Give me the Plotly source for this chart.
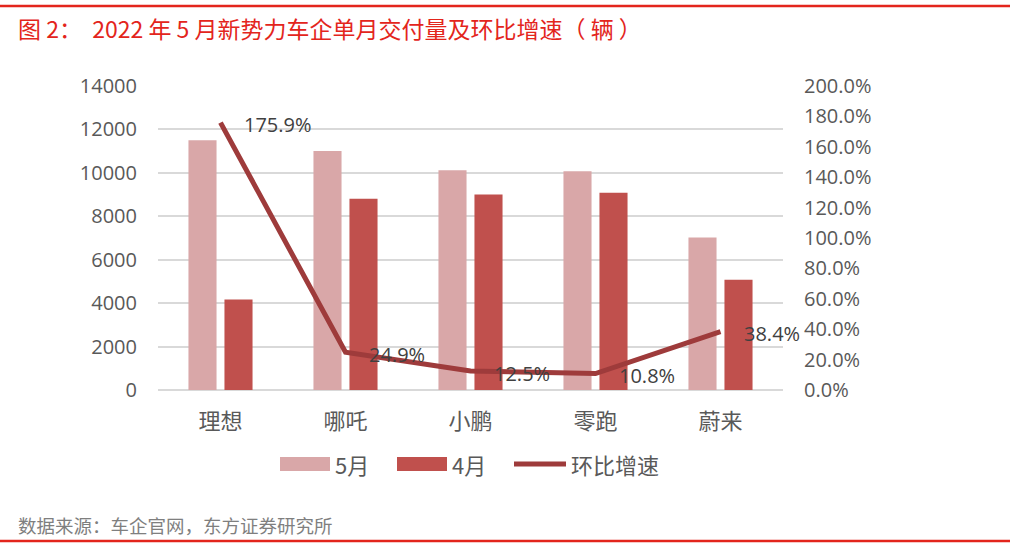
import plotly.graph_objects as go

categories = ["理想", "哪吒", "小鹏", "零跑", "蔚来"]
may_values = [11496, 11009, 10125, 10069, 7024]
apr_values = [4167, 8813, 9002, 9087, 5074]
growth_pct = [175.9, 24.9, 12.5, 10.8, 38.4]
series_names = ["5月", "4月", "环比增速"]

W, H = 1020, 556
L, R, T, B = 158, 783, 86, 390
pw, ph = R - L, B - T

def px(x):
    return (x - L) / pw

def py(y):
    return (B - y) / ph

num_font = "Open Sans, Noto Sans CJK SC, sans-serif"
cjk_font = "Noto Sans CJK SC, sans-serif"
c_may, c_apr, c_line = "#D9A7A8", "#C0504D", "#9E3B3B"

fig = go.Figure()
fig.add_trace(go.Bar(x=categories, y=may_values, name=series_names[0],
                     marker=dict(color=c_may, line=dict(width=0))))
fig.add_trace(go.Bar(x=categories, y=apr_values, name=series_names[1],
                     marker=dict(color=c_apr, line=dict(width=0))))
fig.add_trace(go.Scatter(x=categories, y=[g / 100 for g in growth_pct], name=series_names[2],
                         yaxis="y2", mode="lines",
                         line=dict(color=c_line, width=5)))

for c, g in zip(categories, growth_pct):
    fig.add_annotation(x=c, y=g / 100, xref="x", yref="y2", text=f"{g:.1f}%",
                       showarrow=False, xanchor="left", yanchor="middle", xshift=21, yshift=-2,
                       font=dict(size=20, color="#404040", family=num_font))

fig.update_layout(
    width=W, height=H,
    margin=dict(l=L, r=W - R, t=T, b=H - B, autoexpand=False),
    paper_bgcolor="white", plot_bgcolor="white",
    barmode="group", bargap=0.424, bargroupgap=0.22,
    font=dict(family=cjk_font, color="#595959"),
    showlegend=False,
    xaxis=dict(range=[-0.5, len(categories) - 0.5], autorange=False, showline=False, ticks="",
               ticklabelstandoff=16,
               tickfont=dict(size=22, color="#595959", family=cjk_font)),
    yaxis=dict(range=[0, 14000], dtick=2000, tickformat="d", showgrid=True, gridcolor="#D9D9D9", gridwidth=1.5,
               zeroline=True, zerolinecolor="#D9D9D9", zerolinewidth=1.5,
               tickfont=dict(size=20, color="#595959", family=num_font), ticklabelstandoff=20),
    yaxis2=dict(range=[0, 2.0], dtick=0.2, tickformat=".1%", overlaying="y", side="right",
                showgrid=False, zeroline=False,
                tickfont=dict(size=20, color="#595959", family=num_font), ticklabelstandoff=20),
)

# manual legend
leg_y = 464
fig.add_shape(type="rect", xref="paper", yref="paper", x0=px(280), x1=px(330), y0=py(457), y1=py(471),
              fillcolor=c_may, line=dict(width=0))
fig.add_shape(type="rect", xref="paper", yref="paper", x0=px(397), x1=px(447), y0=py(457), y1=py(471),
              fillcolor=c_apr, line=dict(width=0))
fig.add_shape(type="line", xref="paper", yref="paper", x0=px(514), x1=px(566), y0=py(leg_y), y1=py(leg_y),
              line=dict(color=c_line, width=5))
for name, x in zip(series_names, [333, 450, 569]):
    fig.add_annotation(xref="paper", yref="paper", x=px(x), y=py(leg_y), xanchor="left", yanchor="middle",
                       text=name, showarrow=False, font=dict(size=22, color="#595959", family=cjk_font))

fig.add_shape(type="line", xref="paper", yref="paper", x0=px(0), x1=px(1010), y0=py(6), y1=py(6),
              line=dict(color="#E3251C", width=2.5))
fig.add_shape(type="line", xref="paper", yref="paper", x0=px(0), x1=px(1010), y0=py(541), y1=py(541),
              line=dict(color="#E3251C", width=2.5))
fig.add_annotation(xref="paper", yref="paper", x=px(16), y=py(28), xanchor="left", yanchor="middle",
                   text="图 2：  2022 年 5 月新势力车企单月交付量及环比增速（ 辆 ）", showarrow=False,
                   font=dict(size=23, color="#E3251C", family=cjk_font))
fig.add_annotation(xref="paper", yref="paper", x=px(16), y=py(525), xanchor="left", yanchor="middle",
                   text="数据来源：车企官网，东方证券研究所", showarrow=False,
                   font=dict(size=18.5, color="#7F7F7F", family=cjk_font))

fig.write_html("out.html", config={"displayModeBar": False},
               post_script="document.body.style.margin='0';")
